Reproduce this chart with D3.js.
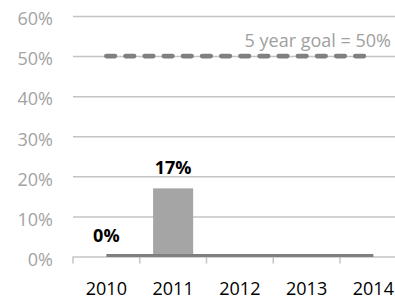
<!DOCTYPE html>
<html>
<head>
<meta charset="utf-8">
<script src="https://cdn.jsdelivr.net/npm/d3@7"></script>
<style>
body { margin: 0; background: #fff; }
text { font-family: "Open Sans", sans-serif; }
</style>
</head>
<body>
<div id="chart"></div>
<script>
// Chart data
const years = ["2010", "2011", "2012", "2013", "2014"];
const actual = [0, 0.17];              // bars (only reported years)
const baseline = [0, 0, 0, 0, 0];      // dark line along zero
const goal = [0.5, 0.5, 0.5, 0.5, 0.5];
const yTicks = [0, 0.1, 0.2, 0.3, 0.4, 0.5, 0.6];
const goalLabel = "5 year goal = 50%";

const W = 395, H = 300;

const svg = d3.select("#chart")
    .append("svg")
    .attr("width", W)
    .attr("height", H);

const x = d3.scaleBand().domain(years).range([73, 406.75]).padding(0);
const y = d3.scaleLinear().domain([0, 0.6]).range([256.5, 16]);
const bw = x.bandwidth();
const cx = d => x(d) + bw / 2;
const pct = d3.format(".0%");

// Gridlines + y labels
const yAxis = svg.append("g")
    .attr("transform", "translate(73,0)")
    .call(d3.axisLeft(y).tickValues(yTicks).tickFormat(pct).tickSize(-(W - 73)).tickPadding(20));
yAxis.select(".domain").remove();
yAxis.selectAll(".tick line").attr("stroke", "#c4c4c4").attr("stroke-width", 1.5);
yAxis.selectAll(".tick text")
    .attr("fill", "#a3a3a3")
    .attr("font-size", 18)
    .attr("dy", "0.32em")
    .attr("transform", "translate(0,3)");

// x tick marks at band edges
const edges = years.map(d => x(d)).concat([x.range()[1]]);
svg.selectAll(".xtick")
    .data(edges)
    .enter()
    .append("line")
    .attr("x1", d => d).attr("x2", d => d)
    .attr("y1", y(0)).attr("y2", y(0) + 7)
    .attr("stroke", "#c4c4c4")
    .attr("stroke-width", 1.5);

// x labels
svg.selectAll(".xlabel")
    .data(years)
    .enter()
    .append("text")
    .attr("x", d => cx(d))
    .attr("y", 295)
    .attr("text-anchor", "middle")
    .attr("font-size", 18)
    .attr("fill", "#000")
    .text(d => d);

// Bars
svg.selectAll(".bar")
    .data(actual)
    .enter()
    .append("rect")
    .attr("x", (d, i) => x(years[i]) + bw * 0.2)
    .attr("width", bw * 0.6)
    .attr("y", d => y(d))
    .attr("height", d => y(0) - y(d))
    .attr("fill", "#a5a5a5");

const line = d3.line()
    .x((d, i) => cx(years[i]))
    .y(d => y(d));

// Zero line
svg.append("path")
    .datum(baseline)
    .attr("d", line)
    .attr("fill", "none")
    .attr("stroke", "#7f7f7f")
    .attr("stroke-width", 3)
    .attr("transform", "translate(0,-1)");

// Goal line
svg.append("path")
    .datum(goal)
    .attr("d", line)
    .attr("fill", "none")
    .attr("stroke", "#808080")
    .attr("stroke-width", 4.6)
    .attr("stroke-linecap", "round")
    .attr("stroke-dasharray", "8.6,10.55");

svg.append("text")
    .attr("x", 391)
    .attr("y", y(0.5) - 9.5)
    .attr("text-anchor", "end")
    .attr("font-size", 18)
    .attr("fill", "#a0a0a0")
    .text(goalLabel);

// Bar value labels
svg.selectAll(".vlabel")
    .data(actual)
    .enter()
    .append("text")
    .attr("x", (d, i) => cx(years[i]))
    .attr("y", d => y(d) - 14.5)
    .attr("text-anchor", "middle")
    .attr("font-size", 18)
    .attr("font-weight", "bold")
    .attr("fill", "#000")
    .text(d => pct(d));
</script>
</body>
</html>
